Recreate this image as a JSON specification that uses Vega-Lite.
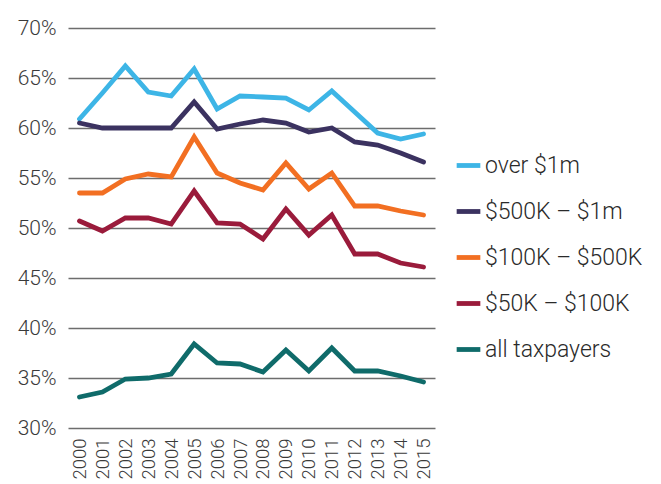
{
  "$schema": "https://vega.github.io/schema/vega-lite/v6.json",
  "width": 367,
  "height": 400,
  "padding": {"left": 68, "top": 28, "right": 226, "bottom": 56},
  "autosize": {"type": "none"},
  "background": "white",
  "config": {
    "view": {"stroke": null},
    "font": "Roboto"
  },
  "data": {
    "values": [
      {"year": "2000", "group": "over $1m", "v": 60.9},
      {"year": "2001", "group": "over $1m", "v": 63.5},
      {"year": "2002", "group": "over $1m", "v": 66.2},
      {"year": "2003", "group": "over $1m", "v": 63.6},
      {"year": "2004", "group": "over $1m", "v": 63.2},
      {"year": "2005", "group": "over $1m", "v": 65.9},
      {"year": "2006", "group": "over $1m", "v": 61.9},
      {"year": "2007", "group": "over $1m", "v": 63.2},
      {"year": "2008", "group": "over $1m", "v": 63.1},
      {"year": "2009", "group": "over $1m", "v": 63.0},
      {"year": "2010", "group": "over $1m", "v": 61.8},
      {"year": "2011", "group": "over $1m", "v": 63.7},
      {"year": "2012", "group": "over $1m", "v": 61.6},
      {"year": "2013", "group": "over $1m", "v": 59.5},
      {"year": "2014", "group": "over $1m", "v": 58.9},
      {"year": "2015", "group": "over $1m", "v": 59.4},
      {"year": "2000", "group": "$500K – $1m", "v": 60.5},
      {"year": "2001", "group": "$500K – $1m", "v": 60.0},
      {"year": "2002", "group": "$500K – $1m", "v": 60.0},
      {"year": "2003", "group": "$500K – $1m", "v": 60.0},
      {"year": "2004", "group": "$500K – $1m", "v": 60.0},
      {"year": "2005", "group": "$500K – $1m", "v": 62.6},
      {"year": "2006", "group": "$500K – $1m", "v": 59.9},
      {"year": "2007", "group": "$500K – $1m", "v": 60.4},
      {"year": "2008", "group": "$500K – $1m", "v": 60.8},
      {"year": "2009", "group": "$500K – $1m", "v": 60.5},
      {"year": "2010", "group": "$500K – $1m", "v": 59.6},
      {"year": "2011", "group": "$500K – $1m", "v": 60.0},
      {"year": "2012", "group": "$500K – $1m", "v": 58.6},
      {"year": "2013", "group": "$500K – $1m", "v": 58.3},
      {"year": "2014", "group": "$500K – $1m", "v": 57.5},
      {"year": "2015", "group": "$500K – $1m", "v": 56.6},
      {"year": "2000", "group": "$100K – $500K", "v": 53.5},
      {"year": "2001", "group": "$100K – $500K", "v": 53.5},
      {"year": "2002", "group": "$100K – $500K", "v": 54.9},
      {"year": "2003", "group": "$100K – $500K", "v": 55.4},
      {"year": "2004", "group": "$100K – $500K", "v": 55.1},
      {"year": "2005", "group": "$100K – $500K", "v": 59.1},
      {"year": "2006", "group": "$100K – $500K", "v": 55.5},
      {"year": "2007", "group": "$100K – $500K", "v": 54.5},
      {"year": "2008", "group": "$100K – $500K", "v": 53.8},
      {"year": "2009", "group": "$100K – $500K", "v": 56.5},
      {"year": "2010", "group": "$100K – $500K", "v": 53.9},
      {"year": "2011", "group": "$100K – $500K", "v": 55.5},
      {"year": "2012", "group": "$100K – $500K", "v": 52.2},
      {"year": "2013", "group": "$100K – $500K", "v": 52.2},
      {"year": "2014", "group": "$100K – $500K", "v": 51.7},
      {"year": "2015", "group": "$100K – $500K", "v": 51.3},
      {"year": "2000", "group": "$50K – $100K", "v": 50.7},
      {"year": "2001", "group": "$50K – $100K", "v": 49.7},
      {"year": "2002", "group": "$50K – $100K", "v": 51.0},
      {"year": "2003", "group": "$50K – $100K", "v": 51.0},
      {"year": "2004", "group": "$50K – $100K", "v": 50.4},
      {"year": "2005", "group": "$50K – $100K", "v": 53.7},
      {"year": "2006", "group": "$50K – $100K", "v": 50.5},
      {"year": "2007", "group": "$50K – $100K", "v": 50.4},
      {"year": "2008", "group": "$50K – $100K", "v": 48.9},
      {"year": "2009", "group": "$50K – $100K", "v": 51.9},
      {"year": "2010", "group": "$50K – $100K", "v": 49.3},
      {"year": "2011", "group": "$50K – $100K", "v": 51.3},
      {"year": "2012", "group": "$50K – $100K", "v": 47.4},
      {"year": "2013", "group": "$50K – $100K", "v": 47.4},
      {"year": "2014", "group": "$50K – $100K", "v": 46.5},
      {"year": "2015", "group": "$50K – $100K", "v": 46.1},
      {"year": "2000", "group": "all taxpayers", "v": 33.1},
      {"year": "2001", "group": "all taxpayers", "v": 33.6},
      {"year": "2002", "group": "all taxpayers", "v": 34.9},
      {"year": "2003", "group": "all taxpayers", "v": 35.0},
      {"year": "2004", "group": "all taxpayers", "v": 35.4},
      {"year": "2005", "group": "all taxpayers", "v": 38.4},
      {"year": "2006", "group": "all taxpayers", "v": 36.5},
      {"year": "2007", "group": "all taxpayers", "v": 36.4},
      {"year": "2008", "group": "all taxpayers", "v": 35.6},
      {"year": "2009", "group": "all taxpayers", "v": 37.8},
      {"year": "2010", "group": "all taxpayers", "v": 35.7},
      {"year": "2011", "group": "all taxpayers", "v": 38.0},
      {"year": "2012", "group": "all taxpayers", "v": 35.7},
      {"year": "2013", "group": "all taxpayers", "v": 35.7},
      {"year": "2014", "group": "all taxpayers", "v": 35.2},
      {"year": "2015", "group": "all taxpayers", "v": 34.6}
    ]
  },
  "mark": {"type": "line", "strokeWidth": 4.8, "strokeJoin": "miter", "strokeCap": "round"},
  "encoding": {
    "x": {
      "field": "year",
      "type": "ordinal",
      "scale": {"type": "point", "padding": 0.5},
      "axis": {
        "title": null,
        "labelAngle": -90,
        "labelAlign": "right",
        "labelBaseline": "middle",
        "labelFontSize": 18.5,
        "labelFont": "Roboto",
        "labelFontWeight": 300,
        "labelColor": "#3a3a3a",
        "ticks": false,
        "domain": false,
        "grid": false,
        "labelPadding": 10
      }
    },
    "y": {
      "field": "v",
      "type": "quantitative",
      "scale": {"domain": [30, 70], "nice": false, "zero": false},
      "axis": {
        "title": null,
        "values": [30, 35, 40, 45, 50, 55, 60, 65, 70],
        "labelExpr": "datum.value + '%'",
        "labelFontSize": 21,
        "labelFont": "Roboto",
        "labelFontWeight": 300,
        "labelColor": "#3a3a3a",
        "ticks": false,
        "domain": false,
        "grid": true,
        "gridColor": "#6d6d6d",
        "gridWidth": 1.6,
        "labelPadding": 12
      }
    },
    "color": {
      "field": "group",
      "type": "nominal",
      "sort": ["over $1m", "$500K – $1m", "$100K – $500K", "$50K – $100K", "all taxpayers"],
      "scale": {
        "domain": ["over $1m", "$500K – $1m", "$100K – $500K", "$50K – $100K", "all taxpayers"],
        "range": ["#3db5e6", "#3b3260", "#f26f22", "#9a1b3b", "#0f6b6a"]
      },
      "legend": {
        "title": null,
        "orient": "none",
        "legendX": 386,
        "legendY": 123,
        "symbolType": "stroke",
        "symbolStrokeWidth": 4.8,
        "symbolSize": 560,
        "labelFontSize": 23,
        "labelFont": "Roboto",
        "labelFontWeight": 300,
        "labelColor": "#2a2a2a",
        "rowPadding": 19,
        "labelOffset": 2,
        "labelLimit": 300
      }
    }
  }
}
